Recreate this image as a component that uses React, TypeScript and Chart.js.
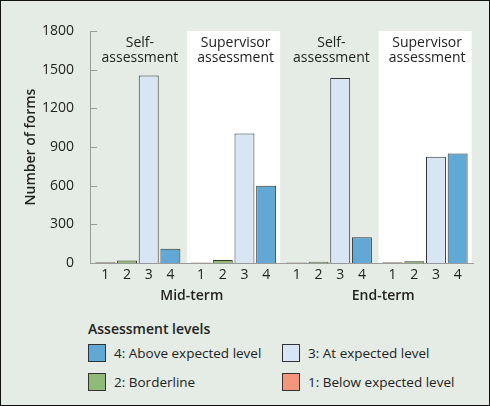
import React, { useEffect, useRef } from "react";
import { Chart, registerables } from "chart.js";

Chart.register(...registerables);

// ---- data ----
const groups = ["Mid-term self", "Mid-term supervisor", "End-term self", "End-term supervisor"];
const groupTitles = [
  ["Self-", "assessment"],
  ["Supervisor", "assessment"],
  ["Self-", "assessment"],
  ["Supervisor", "assessment"],
];
const supervisorGroups = [1, 3];
const periods = ["Mid-term", "End-term"];
const levelTicks = ["1", "2", "3", "4"];
const levelLabels = [
  "1: Below expected level",
  "2: Borderline",
  "3: At expected level",
  "4: Above expected level",
];
const level1 = [5, 4, 3, 5];
const level2 = [20, 24, 9, 14];
const level3 = [1455, 1005, 1435, 825];
const level4 = [110, 600, 200, 850];
const levelValues = [level1, level2, level3, level4];
const levelColors = ["#f4967b", "#91b977", "#d8e5f2", "#61a8d5"];
const legendOrder = [3, 2, 1, 0];
const yMax = 1800;
const yStep = 300;

const FONT = "'Open Sans', 'DejaVu Sans', sans-serif";
const TEXT = "#222";
const AXIS = "#9a9a9a";
const BG = "#e5ece5";

const decor = {
  id: "decor",
  beforeDraw(chart: any) {
    const { ctx, chartArea } = chart;
    ctx.save();
    ctx.fillStyle = "#ffffff";
    supervisorGroups.forEach((g) => {
      const first: any = chart.getDatasetMeta(0).data[g];
      const last: any = chart.getDatasetMeta(levelValues.length - 1).data[g];
      const l = first.x - first.width / 2 - 4;
      const r = last.x + last.width / 2 + 4;
      ctx.fillRect(l, chartArea.top, r - l, chartArea.bottom - chartArea.top);
    });
    ctx.restore();
  },
  afterDraw(chart: any) {
    const { ctx, chartArea, scales } = chart;
    ctx.save();
    // y tick marks, drawn inward
    ctx.strokeStyle = AXIS;
    ctx.lineWidth = 1;
    scales.y.ticks.forEach((t: any) => {
      if (t.value === 0) return;
      const y = Math.round(scales.y.getPixelForValue(t.value)) + 0.5;
      ctx.beginPath();
      ctx.moveTo(chartArea.left, y);
      ctx.lineTo(chartArea.left + 7, y);
      ctx.stroke();
    });
    ctx.fillStyle = TEXT;
    ctx.textAlign = "center";
    ctx.textBaseline = "middle";
    const centers: number[] = [];
    groups.forEach((_, g) => {
      const first: any = chart.getDatasetMeta(0).data[g];
      const last: any = chart.getDatasetMeta(levelValues.length - 1).data[g];
      const c = (first.x + last.x) / 2 + 2;
      centers.push(c);
      // group titles
      ctx.font = `400 14px ${FONT}`;
      groupTitles[g].forEach((line, i) => {
        ctx.fillText(line, c, chartArea.top + 12 + i * 15);
      });
      // level tick labels
      levelTicks.forEach((lab, d) => {
        const el: any = chart.getDatasetMeta(d).data[g];
        ctx.fillText(lab, el.x, chartArea.bottom + 12);
      });
    });
    ctx.font = `600 14px ${FONT}`;
    periods.forEach((p, i) => {
      const c = (centers[2 * i] + centers[2 * i + 1]) / 2 + 4;
      ctx.fillText(p, c, chartArea.bottom + 33);
    });
    ctx.restore();
  },
};

export default function App() {
  const ref = useRef<HTMLCanvasElement>(null);
  useEffect(() => {
    const canvas = ref.current!;
    const chart = new Chart(canvas, {
      type: "bar",
      data: {
        labels: groups,
        datasets: levelValues.map((vals, i) => ({
          label: levelLabels[i],
          data: vals,
          backgroundColor: levelColors[i],
          borderColor: "#333",
          borderWidth: 1,
          borderSkipped: "bottom" as any,
          categoryPercentage: 0.906,
          barPercentage: 0.92,
        })),
      },
      options: {
        animation: false,
        responsive: false,
        devicePixelRatio: 1,
        layout: { padding: { top: 31, right: 17, bottom: 0, left: 0 } },
        plugins: { legend: { display: false }, tooltip: { enabled: false } },
        scales: {
          x: {
            type: "category",
            grid: { display: false },
            border: { color: AXIS, width: 1 },
            ticks: { display: false },
            afterFit: (s: any) => {
              s.height = 47;
            },
          },
          y: {
            min: 0,
            max: yMax,
            grid: { display: false },
            border: { color: AXIS, width: 1 },
            ticks: {
              stepSize: yStep,
              color: TEXT,
              padding: 8,
              font: { family: FONT, size: 14 },
              callback: (v: any) => String(v),
            },
            title: {
              display: true,
              text: "Number of forms",
              color: TEXT,
              font: { family: FONT, size: 14, weight: "600" as any },
              padding: { top: 23, bottom: 0 },
            },
            afterFit: (s: any) => {
              s.width = 90;
            },
          },
        },
      },
      plugins: [decor],
    });
    return () => chart.destroy();
  }, []);

  return (
    <div
      style={{
        position: "fixed",
        left: 0,
        top: 0,
        width: 490,
        height: 406,
        background: BG,
        fontFamily: FONT,
        color: TEXT,
        overflow: "hidden",
      }}
    >
      <canvas
        ref={ref}
        width={490}
        height={310}
        style={{ position: "absolute", left: 0, top: 0, width: 490, height: 310 }}
      />
      <div
        style={{
          position: "absolute",
          left: 88,
          top: 319,
          fontSize: 14,
          fontWeight: 600,
          lineHeight: "20px",
        }}
      >
        Assessment levels
      </div>
      <div
        style={{
          position: "absolute",
          left: 88,
          top: 344,
          display: "grid",
          gridTemplateColumns: "194px 194px",
          rowGap: 11,
          fontSize: 13.5,
        }}
      >
        {legendOrder.map((i) => (
          <div key={i} style={{ display: "flex", alignItems: "center", height: 18 }}>
            <span
              style={{
                display: "inline-block",
                width: 16,
                height: 16,
                background: levelColors[i],
                border: "1px solid #333",
                marginRight: 8,
              }}
            />
            <span style={{ lineHeight: "18px" }}>{levelLabels[i]}</span>
          </div>
        ))}
      </div>
      <div
        style={{
          position: "absolute",
          left: 0,
          top: 0,
          width: 490,
          height: 406,
          boxSizing: "border-box",
          border: "1px solid #111",
          pointerEvents: "none",
        }}
      />
    </div>
  );
}
